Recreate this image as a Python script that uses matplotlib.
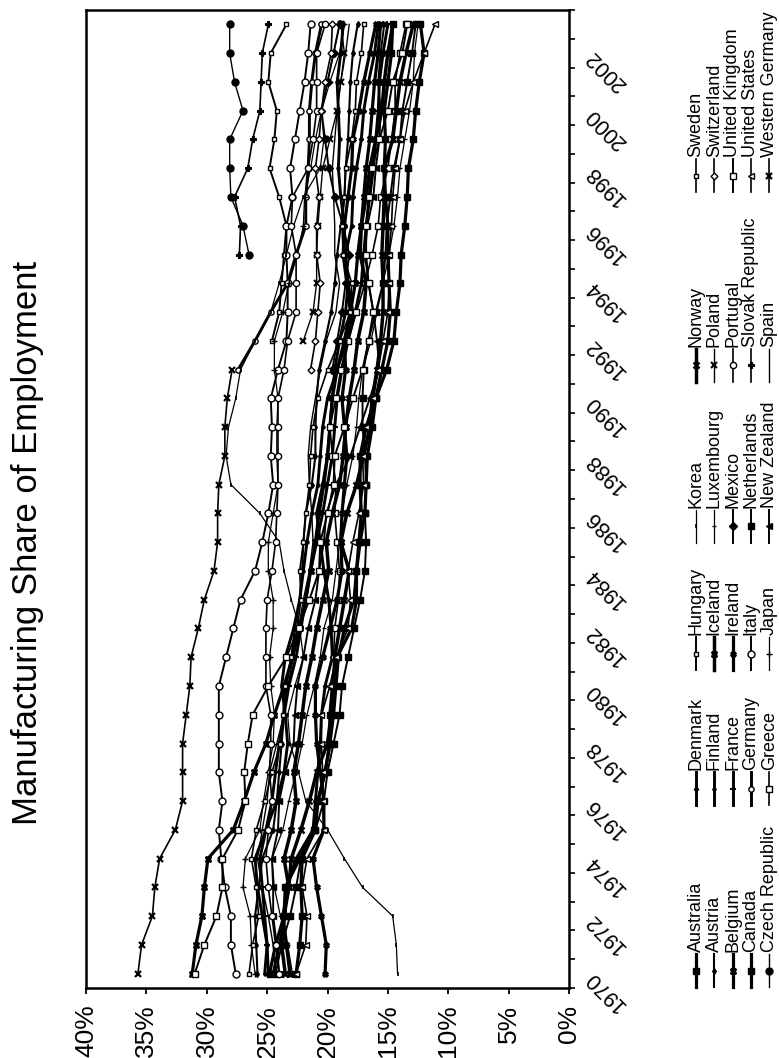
import numpy as np
import matplotlib.pyplot as plt
from matplotlib.lines import Line2D

plt.rcParams['font.family'] = ['Liberation Sans', 'DejaVu Sans']

W, H = 779, 1058

years = list(range(1970, 2004))
year_labels = [str(y) for y in years[::2]]
pct_ticks = [0, 5, 10, 15, 20, 25, 30, 35, 40]
pct_labels = ['0%', '5%', '10%', '15%', '20%', '25%', '30%', '35%', '40%']

# manufacturing share of total employment, %, 1970-2003 (None = no data)
australia = [24.8, 24.3, 23.6, 23.5, 22.3, 21.1, 20.8, 20.2, 19.8, 19.5,
             19.3, 19.1, 18.6, 17.8, 17.6, 17.3, 16.9, 16.8, 16.7, 16.3,
             16.0, 15.1, 14.5, 14.3, 14.0, 13.9, 13.6, 13.4, 13.3, 12.9,
             12.7, 12.4, 12.0, 12.3]
austria = [25.8, 25.9, 26.0, 25.7, 25.4, 24.5, 24.2, 24.0, 23.8, 23.6,
           23.4, 23.0, 22.7, 22.3, 22.1, 22.0, 21.8, 21.3, 21.0, 21.0,
           20.9, 20.7, 20.2, 19.7, 19.4, 19.2, 18.9, 18.6, 18.5, 18.3,
           18.2, 18.1, 17.9, 17.5]
belgium = [31.2, 30.9, 30.4, 30.2, 29.9, 27.8, 26.9, 26.1, 25.1, 24.4,
           23.6, 22.9, 22.3, 21.8, 21.4, 21.0, 20.7, 20.3, 20.0, 19.8,
           19.6, 19.2, 18.6, 18.1, 17.7, 17.5, 17.2, 17.0, 16.8, 16.5,
           16.3, 16.1, 15.8, 15.6]
canada = [22.6, 22.3, 22.1, 22.2, 22.1, 21.0, 20.8, 20.2, 19.8, 19.8,
          19.6, 19.2, 18.0, 17.6, 17.6, 17.4, 17.2, 17.3, 17.3, 16.8,
          16.0, 15.5, 15.0, 14.8, 14.9, 15.0, 15.0, 15.2, 15.3, 15.2,
          15.3, 15.0, 14.7, 14.6]
czech_republic = [None] * 25 + [26.5, 27.0, 28.0, 28.1, 28.1, 27.0, 27.7, 28.1, 28.1]
denmark = [24.5, 24.0, 23.5, 23.4, 22.6, 21.2, 21.0, 20.8, 20.6, 20.5,
           20.2, 19.6, 19.7, 19.9, 20.3, 20.6, 20.9, 20.4, 20.0, 19.8,
           19.6, 19.4, 19.0, 18.5, 18.3, 18.5, 18.0, 17.9, 17.6, 17.2,
           17.0, 16.6, 16.1, 15.8]
finland = [25.2, 25.0, 25.4, 25.8, 26.0, 25.1, 24.2, 23.6, 23.3, 23.5,
           23.8, 23.5, 22.8, 22.3, 22.0, 21.7, 21.3, 20.8, 20.6, 20.4,
           20.0, 19.2, 18.4, 17.9, 18.3, 18.6, 18.6, 18.9, 19.1, 19.0,
           19.1, 19.2, 18.9, 18.7]
france = [24.9, 25.0, 25.2, 25.4, 25.6, 25.1, 24.6, 24.3, 24.0, 23.6,
          23.2, 22.6, 22.2, 21.8, 21.4, 20.9, 20.4, 20.0, 19.6, 19.4,
          19.2, 18.8, 18.3, 17.7, 17.2, 17.0, 16.8, 16.5, 16.2, 16.0,
          15.8, 15.7, 15.4, 15.0]
germany = [None] * 21 + [27.4, 26.0, 24.7, 23.3, 22.6, 21.8, 21.8, 21.6,
                         21.5, 21.5, 21.3, 21.0, 20.5]
greece = [None] * 11 + [19.5, 19.4, 19.1, 19.0, 19.2, 19.4, 19.3, 19.6, 19.8,
                        19.3, 18.9, 18.3, 17.6, 16.9, 16.3, 15.8, 15.6, 15.0,
                        14.7, 14.4, 14.4, 14.0, 13.5]
hungary = [None] * 22 + [24.6, 24.0, 23.8, 23.6, 23.4, 24.0, 24.8, 24.4,
                         24.2, 24.9, 24.7, 23.4]
iceland = [23.1, 23.4, 23.7, 23.2, 23.6, 23.0, 22.6, 22.8, 22.4, 22.1,
           21.8, 21.3, 20.9, 20.4, 19.9, 20.1, 19.6, 19.0, 18.7, 18.5,
           18.2, 17.8, 17.5, 17.0, 16.8, 17.3, 17.2, 16.8, 16.5, 16.0,
           15.5, 15.3, 15.0, 14.6]
ireland = [20.2, 20.1, 20.5, 20.9, 21.2, 20.3, 20.3, 20.6, 20.9, 21.0,
           21.0, 20.4, 19.8, 19.2, 18.8, 18.9, 18.8, 18.6, 18.4, 18.6,
           18.8, 18.5, 18.6, 18.1, 18.4, 18.7, 18.6, 18.3, 18.0, 17.9,
           17.4, 17.0, 16.5, 16.0]
italy = [27.6, 28.0, 28.0, 28.5, 28.8, 29.0, 28.7, 29.0, 29.0, 29.0,
         29.0, 28.4, 27.8, 27.2, 26.0, 25.4, 24.9, 24.5, 24.7, 24.6,
         24.7, 24.1, 23.4, 23.3, 23.3, 23.4, 23.4, 22.9, 23.1, 22.7,
         22.3, 21.9, 21.6, 21.4]
japan = [26.0, 26.3, 26.4, 27.0, 26.8, 25.6, 25.3, 24.9, 24.5, 24.4,
         24.7, 24.8, 24.5, 24.5, 24.9, 24.9, 24.5, 24.1, 24.2, 24.2,
         24.1, 24.4, 24.4, 23.7, 23.2, 22.5, 22.0, 21.9, 21.4, 21.0,
         20.5, 19.8, 19.0, 18.6]
korea = [14.2, 14.3, 14.6, 17.1, 18.6, 20.0, 21.8, 22.4, 23.1, 23.3,
         22.7, 22.0, 22.3, 23.0, 23.6, 24.0, 25.6, 28.0, 28.4, 28.2,
         27.6, 27.2, 26.0, 24.7, 24.0, 23.4, 22.8, 22.0, 20.6, 20.3,
         20.5, 20.0, 19.5, 19.0]
luxembourg = [22.9, 23.3, 23.9, 24.4, 24.6, 23.7, 23.2, 22.6, 22.1, 21.7,
              21.1, 20.6, 20.3, 19.6, 19.3, 19.0, 18.8, 18.4, 17.9, 17.6,
              17.4, 17.1, 16.4, 15.9, 15.4, 14.9, 14.5, 14.2, 14.0, 13.6,
              13.2, 12.9, 12.8, 12.5]
mexico = [None] * 21 + [19.6, 19.2, 18.8, 18.5, 18.2, 18.7, 19.4, 19.9,
                        20.2, 20.5, 20.0, 19.5, 19.0]
netherlands = [24.3, 23.8, 23.1, 22.6, 22.2, 21.0, 20.3, 20.0, 19.5, 19.0,
               18.8, 18.3, 17.8, 17.3, 16.9, 16.8, 16.9, 16.8, 16.9, 17.1,
               17.1, 17.0, 16.6, 16.0, 15.4, 15.2, 15.1, 14.8, 14.5, 14.0,
               13.8, 13.4, 13.0, 12.7]
new_zealand = [24.0, 24.2, 24.5, 24.5, 24.6, 24.1, 24.0, 23.5, 22.8, 22.7,
               22.5, 22.0, 21.6, 21.0, 20.7, 20.3, 20.1, 19.3, 18.1, 17.3,
               16.5, 15.7, 15.9, 16.2, 16.6, 16.9, 16.7, 16.2, 16.0, 15.7,
               15.6, 15.8, 15.6, 15.3]
norway = [23.5, 23.8, 23.6, 23.2, 23.0, 22.2, 21.5, 20.9, 20.0, 19.7,
          19.5, 19.4, 19.0, 18.6, 18.2, 18.9, 18.4, 17.6, 17.0, 16.5,
          16.3, 15.9, 15.6, 15.4, 15.4, 15.5, 15.4, 15.3, 15.3, 14.6,
          14.3, 14.0, 13.5, 12.9]
poland = [None] * 22 + [22.0, 21.2, 20.9, 20.9, 20.8, 20.6, 20.4, 19.8,
                        19.2, 18.9, 18.6, 18.9]
portugal = [24.0, 24.3, 24.6, 24.9, 25.1, 24.9, 24.6, 24.8, 24.7, 24.7,
            25.1, 25.1, 25.1, 25.0, 24.6, 24.3, 24.2, 24.1, 24.1, 24.1,
            24.1, 23.6, 23.3, 22.6, 22.6, 22.6, 23.0, 22.9, 21.6, 21.2,
            20.9, 20.9, 20.9, 20.2]
slovak_republic = [None] * 25 + [27.3, 27.2, 27.7, 26.6, 26.2, 25.6, 25.5, 25.4, 24.9]
spain = [24.3, 24.5, 24.9, 25.4, 25.8, 25.4, 25.0, 24.8, 24.2, 23.6,
         23.3, 22.8, 22.4, 22.0, 21.5, 21.2, 21.3, 21.5, 21.6, 21.4,
         21.0, 20.6, 20.1, 19.3, 19.0, 19.4, 19.4, 19.5, 19.6, 19.4,
         19.2, 18.9, 18.5, 18.2]
sweden = [26.5, 26.2, 25.7, 25.9, 26.3, 25.9, 25.2, 24.6, 23.9, 23.7,
          23.5, 23.0, 22.5, 22.2, 22.3, 22.0, 21.8, 21.5, 21.4, 21.2,
          20.8, 20.0, 19.0, 18.1, 18.0, 18.7, 18.8, 18.6, 18.5, 18.0,
          17.7, 17.6, 17.2, 17.0]
switzerland = [None] * 21 + [21.4, 21.0, 20.8, 20.6, 20.9, 20.9, 20.7, 21.0,
                             20.7, 20.5, 20.2, 19.7, 19.6]
united_kingdom = [31.0, 30.2, 29.2, 28.7, 28.7, 27.4, 26.8, 26.9, 26.6, 26.2,
                  24.9, 23.4, 22.4, 21.5, 20.7, 20.6, 20.0, 19.5, 19.4, 18.6,
                  17.9, 17.1, 16.6, 16.2, 16.6, 16.8, 16.8, 16.6, 16.3, 15.7,
                  15.0, 14.6, 13.8, 13.4]
united_states = [22.6, 21.8, 21.7, 22.1, 21.7, 20.3, 20.4, 20.4, 20.5, 20.5,
                 19.8, 19.3, 18.3, 18.1, 18.3, 17.9, 17.4, 17.0, 17.1, 16.8,
                 16.2, 15.8, 15.4, 15.0, 14.9, 14.9, 14.7, 14.6, 14.4, 14.0,
                 13.6, 12.9, 12.0, 11.1]
western_germany = [35.7, 35.4, 34.5, 34.3, 33.9, 32.6, 32.0, 32.0, 32.0, 31.7,
                   31.4, 31.3, 30.7, 30.2, 29.4, 29.1, 29.1, 29.0, 28.5, 28.5,
                   28.3, 27.9] + [None] * 12

countries = ['Australia', 'Austria', 'Belgium', 'Canada', 'Czech Republic',
             'Denmark', 'Finland', 'France', 'Germany', 'Greece',
             'Hungary', 'Iceland', 'Ireland', 'Italy', 'Japan',
             'Korea', 'Luxembourg', 'Mexico', 'Netherlands', 'New Zealand',
             'Norway', 'Poland', 'Portugal', 'Slovak Republic', 'Spain',
             'Sweden', 'Switzerland', 'United Kingdom', 'United States',
             'Western Germany']
series = [australia, austria, belgium, canada, czech_republic,
          denmark, finland, france, germany, greece,
          hungary, iceland, ireland, italy, japan,
          korea, luxembourg, mexico, netherlands, new_zealand,
          norway, poland, portugal, slovak_republic, spain,
          sweden, switzerland, united_kingdom, united_states,
          western_germany]

# (line width, marker, marker size, filled, marker edge width)
styles = [
    (2.3, 's', 4.0, True, 1.0),    # Australia
    (1.5, 'd', 3.0, True, 1.0),    # Austria
    (2.3, 'X', 4.5, True, 0.8),    # Belgium
    (2.3, 's', 3.8, True, 1.0),    # Canada
    (1.0, 'o', 5.0, True, 1.0),    # Czech Republic
    (2.1, 'D', 2.2, True, 1.0),    # Denmark
    (2.1, 'o', 2.2, True, 1.0),    # Finland
    (2.1, '_', 4.0, True, 1.5),    # France
    (2.1, 'o', 3.8, False, 1.0),   # Germany
    (1.2, 's', 4.3, False, 1.0),   # Greece
    (1.4, 's', 3.3, False, 1.0),   # Hungary
    (2.5, 'X', 4.5, True, 0.8),    # Iceland
    (2.3, 'X', 4.0, True, 0.8),    # Ireland
    (1.4, 'o', 5.0, False, 1.0),   # Italy
    (0.9, '+', 4.5, True, 1.0),    # Japan
    (0.9, '|', 3.5, True, 1.2),    # Korea
    (0.9, '_', 3.0, True, 1.0),    # Luxembourg
    (1.4, 'D', 4.5, True, 1.0),    # Mexico
    (1.4, 's', 5.0, True, 1.0),    # Netherlands
    (1.4, '<', 4.0, True, 1.0),    # New Zealand
    (2.5, 'x', 4.0, True, 1.8),    # Norway
    (1.0, 'x', 4.2, True, 1.5),    # Poland
    (1.2, 'o', 4.5, False, 1.0),   # Portugal
    (1.2, 'P', 4.0, True, 0.8),    # Slovak Republic
    (1.0, '', 0.0, True, 1.0),     # Spain
    (1.2, 's', 3.0, False, 1.0),   # Sweden
    (1.2, 'D', 3.5, False, 1.0),   # Switzerland
    (1.4, 's', 4.8, False, 1.0),   # United Kingdom
    (1.2, '<', 4.0, False, 1.0),   # United States
    (1.2, 'x', 4.5, True, 1.6),    # Western Germany
]

fig = plt.figure(figsize=(W / 100, H / 100), dpi=100)
ax = fig.add_axes([86 / W, 1 - 988 / H, (569 - 86) / W, (988 - 10) / H])

# the chart is laid out sideways: share runs right-to-left, years run upwards
idx = np.arange(len(years))
for vals, (lw, mk, ms, filled, mew) in zip(series, styles):
    v = np.array(vals, dtype=float)
    ax.plot(v, idx, color='black', lw=lw, marker=mk, ms=ms, mew=mew,
            mfc='black' if filled else 'white', mec='black', zorder=3)

ax.set_xlim(40, 0)
ax.set_ylim(-0.5, len(years) - 0.5)

ax.set_xticks(pct_ticks)
ax.set_xticklabels(pct_labels, rotation=90, fontsize=19)
ax.tick_params(axis='x', direction='out', length=4, width=1.3, pad=8)

ax.yaxis.tick_right()
ax.set_yticks(idx[::2])
ax.set_yticklabels(year_labels, rotation=135, rotation_mode='anchor',
                   ha='right', va='center', fontsize=15.5)
ax.set_yticks(np.arange(len(years) + 1) - 0.5, minor=True)
ax.tick_params(axis='y', which='major', length=0, pad=14)
ax.tick_params(axis='y', which='minor', direction='out', length=4,
               width=1.2, right=True, left=False)

for sp in ax.spines.values():
    sp.set_linewidth(1.8)

fig.text(37 / W, 1 - 543 / H, 'Manufacturing Share of Employment',
         rotation=90, rotation_mode='anchor', ha='center', va='baseline',
         fontsize=25)

# legend: six groups of five, stacked bottom to top along the right edge
group_bottom = [987, 805, 670, 543, 382, 192]
for n, (name, (lw, mk, ms, filled, mew)) in enumerate(zip(countries, styles)):
    g, i = divmod(n, 5)
    x = (696 + 18.3 * i) / W
    yb = group_bottom[g]
    y0, y1 = 1 - yb / H, 1 - (yb - 33) / H
    fig.add_artist(Line2D([x, x], [y0, y1], color='black', lw=lw,
                          transform=fig.transFigure))
    if mk:
        fig.add_artist(Line2D([x], [(y0 + y1) / 2], color='black', lw=0,
                              marker=mk, ms=ms, mew=mew,
                              mfc='black' if filled else 'white', mec='black',
                              transform=fig.transFigure))
    fig.text(x, 1 - (yb - 35) / H, name, rotation=90, rotation_mode='anchor',
             ha='left', va='center', fontsize=13)

fig.savefig('out.png', dpi=100)
